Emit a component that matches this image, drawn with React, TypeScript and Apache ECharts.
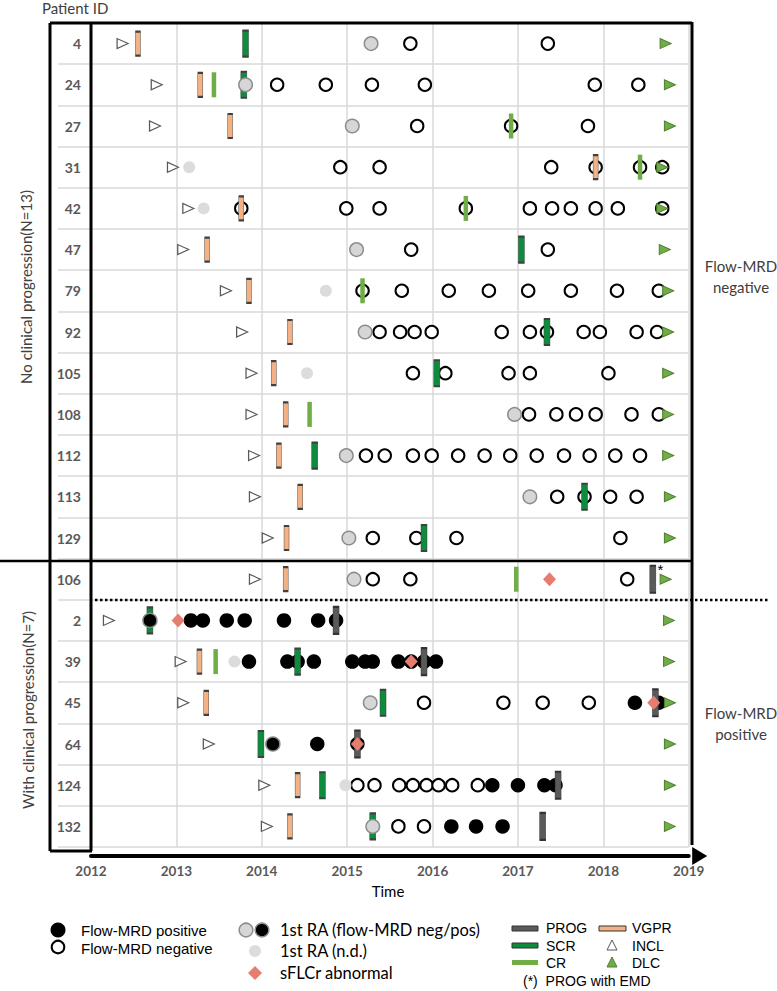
import React, { useEffect, useRef } from 'react';
import * as echarts from 'echarts';

const patients = ['4', '24', '27', '31', '42', '47', '79', '92', '105', '108', '112', '113', '129', '106', '2', '39', '45', '64', '124', '132'];
const yearMin = 2012;
const yearMax = 2019;

type Pt = [number, string];

const incl: Pt[] = [
  [2012.37, '4'], [2012.77, '24'], [2012.75, '27'], [2012.96, '31'], [2013.14, '42'], [2013.08, '47'],
  [2013.58, '79'], [2013.77, '92'], [2013.88, '105'], [2013.88, '108'], [2013.91, '112'], [2013.92, '113'],
  [2014.07, '129'], [2013.92, '106'], [2012.21, '2'], [2013.05, '39'], [2013.08, '45'], [2013.38, '64'],
  [2014.03, '124'], [2014.06, '132'],
];

const dlc: Pt[] = [
  [2018.73, '4'], [2018.78, '24'], [2018.78, '27'], [2018.69, '31'], [2018.69, '42'], [2018.72, '47'],
  [2018.76, '79'], [2018.76, '92'], [2018.76, '105'], [2018.76, '108'], [2018.76, '112'], [2018.78, '113'],
  [2018.78, '129'], [2018.73, '106'], [2018.77, '2'], [2018.77, '39'], [2018.78, '45'], [2018.78, '64'],
  [2018.78, '124'], [2018.78, '132'],
];

const vgpr: Pt[] = [
  [2012.55, '4'], [2013.28, '24'], [2013.63, '27'], [2017.91, '31'], [2013.76, '42'], [2013.36, '47'],
  [2013.85, '79'], [2014.33, '92'], [2014.14, '105'], [2014.28, '108'], [2014.2, '112'], [2014.45, '113'],
  [2014.29, '129'], [2014.28, '106'], [2013.27, '39'], [2013.35, '45'], [2014.42, '124'], [2014.33, '132'],
];

const scr: Pt[] = [
  [2013.81, '4'], [2013.79, '24'], [2017.04, '47'], [2017.34, '92'], [2016.05, '105'], [2014.62, '112'],
  [2017.78, '113'], [2015.9, '129'], [2012.69, '2'], [2014.42, '39'], [2015.42, '45'], [2013.99, '64'],
  [2014.71, '124'], [2015.3, '132'],
];

const cr: Pt[] = [
  [2013.44, '24'], [2016.92, '27'], [2018.43, '31'], [2016.39, '42'], [2015.18, '79'], [2014.56, '108'],
  [2016.98, '106'], [2013.46, '39'],
];

const prog: Pt[] = [
  [2014.87, '2'], [2015.9, '39'], [2018.61, '45'], [2015.12, '64'], [2017.47, '124'], [2017.29, '132'],
];
const progEmd: Pt[] = [[2018.58, '106']];

const sflcr: Pt[] = [
  [2017.37, '106'], [2013.02, '2'], [2015.75, '39'], [2018.59, '45'], [2015.12, '64'],
];

const raNeg: Pt[] = [
  [2015.28, '4'], [2013.81, '24'], [2015.06, '27'], [2015.11, '47'], [2015.21, '92'], [2016.96, '108'],
  [2014.99, '112'], [2017.14, '113'], [2015.02, '129'], [2015.08, '106'], [2015.27, '45'], [2015.3, '132'],
];
const raPos: Pt[] = [[2012.69, '2'], [2014.13, '64']];
const raNd: Pt[] = [
  [2013.15, '31'], [2013.32, '42'], [2014.75, '79'], [2014.53, '105'], [2013.68, '39'], [2014.98, '124'],
];

const flowNeg: Pt[] = [
  [2015.74, '4'], [2017.35, '4'],
  [2014.18, '24'], [2014.75, '24'], [2015.29, '24'], [2015.91, '24'], [2017.9, '24'], [2018.41, '24'],
  [2015.82, '27'], [2016.92, '27'], [2017.82, '27'],
  [2014.92, '31'], [2015.38, '31'], [2017.39, '31'], [2017.91, '31'], [2018.43, '31'], [2018.69, '31'],
  [2013.76, '42'], [2014.99, '42'], [2015.38, '42'], [2016.39, '42'], [2017.14, '42'], [2017.4, '42'],
  [2017.62, '42'], [2017.91, '42'], [2018.17, '42'], [2018.69, '42'],
  [2015.75, '47'], [2017.35, '47'],
  [2015.18, '79'], [2015.64, '79'], [2016.19, '79'], [2016.66, '79'], [2017.12, '79'], [2017.62, '79'],
  [2018.16, '79'], [2018.65, '79'],
  [2015.38, '92'], [2015.62, '92'], [2015.79, '92'], [2015.99, '92'], [2016.81, '92'], [2017.14, '92'],
  [2017.34, '92'], [2017.77, '92'], [2017.96, '92'], [2018.39, '92'], [2018.63, '92'],
  [2015.77, '105'], [2016.15, '105'], [2016.89, '105'], [2017.14, '105'], [2018.06, '105'],
  [2017.13, '108'], [2017.45, '108'], [2017.68, '108'], [2017.91, '108'], [2018.33, '108'], [2018.65, '108'],
  [2015.22, '112'], [2015.44, '112'], [2015.77, '112'], [2015.99, '112'], [2016.3, '112'], [2016.61, '112'],
  [2016.91, '112'], [2017.22, '112'], [2017.54, '112'], [2017.84, '112'], [2018.14, '112'], [2018.43, '112'],
  [2017.46, '113'], [2017.78, '113'], [2018.08, '113'], [2018.39, '113'],
  [2015.3, '129'], [2015.81, '129'], [2016.28, '129'], [2018.2, '129'],
  [2015.3, '106'], [2015.74, '106'], [2018.28, '106'],
  [2015.9, '45'], [2016.83, '45'], [2017.29, '45'], [2017.83, '45'],
  [2015.12, '124'], [2015.32, '124'], [2015.61, '124'], [2015.77, '124'], [2015.93, '124'], [2016.07, '124'],
  [2016.23, '124'], [2016.53, '124'],
  [2015.6, '132'], [2015.9, '132'],
];

const flowPos: Pt[] = [
  [2013.17, '2'], [2013.31, '2'], [2013.59, '2'], [2013.8, '2'], [2014.26, '2'], [2014.66, '2'], [2014.87, '2'],
  [2013.85, '39'], [2014.3, '39'], [2014.42, '39'], [2014.61, '39'], [2015.06, '39'], [2015.21, '39'],
  [2015.3, '39'], [2015.6, '39'], [2015.75, '39'], [2015.9, '39'], [2016.04, '39'],
  [2018.37, '45'], [2018.65, '45'],
  [2014.65, '64'], [2015.12, '64'],
  [2016.7, '124'], [2017.0, '124'], [2017.31, '124'], [2017.44, '124'],
  [2016.22, '132'], [2016.51, '132'], [2016.82, '132'],
];

const C = {
  vgpr: '#F4B183',
  scr: '#0E8C3E',
  cr: '#70AD47',
  prog: '#5A5A5A',
  sflcr: '#E57E70',
  ra: '#D6D6D6',
  nd: '#DCDCDC',
  dlc: '#70AD47',
  grid: '#D9D9D9',
  border: '#404040',
  text: '#404040',
  label: '#595959',
};

const CAL = 'Lato, "Open Sans", sans-serif';
const ARIAL = '"Liberation Sans", Arial, sans-serif';

function buildOption() {
  const sc = (name: string, data: any[], z: number, extra: any) => ({
    type: 'scatter',
    name,
    data,
    z,
    xAxisIndex: 0,
    yAxisIndex: 0,
    ...extra,
    itemStyle: { opacity: 1, ...(extra.itemStyle || {}) },
  });

  const series = [
    sc('Flow-MRD negative', flowNeg, 2, {
      symbol: 'circle', symbolSize: 12.5,
      itemStyle: { color: '#fff', borderColor: '#000', borderWidth: 2 },
    }),
    sc('Flow-MRD positive', flowPos, 2, {
      symbol: 'circle', symbolSize: 14.5,
      itemStyle: { color: '#000' },
    }),
    sc('VGPR', vgpr, 3, {
      symbol: 'rect', symbolSize: [5, 24],
      itemStyle: { color: C.vgpr, borderColor: C.border, borderWidth: 1 },
    }),
    sc('SCR', scr, 3, {
      symbol: 'rect', symbolSize: [6, 26],
      itemStyle: { color: C.scr, borderColor: C.border, borderWidth: 1 },
    }),
    sc('CR', cr, 3, {
      symbol: 'rect', symbolSize: [4.5, 25],
      itemStyle: { color: C.cr },
    }),
    sc('PROG', prog, 3, {
      symbol: 'rect', symbolSize: [6, 27],
      itemStyle: { color: C.prog, borderColor: '#333', borderWidth: 1 },
    }),
    sc('PROG with EMD', progEmd, 3, {
      symbol: 'rect', symbolSize: [6, 27],
      itemStyle: { color: C.prog, borderColor: '#333', borderWidth: 1 },
      label: {
        show: true, formatter: '*', position: [8, -3],
        color: '#000', fontSize: 15, fontFamily: ARIAL,
      },
    }),
    sc('1st RA (flow-MRD neg)', raNeg, 4, {
      symbol: 'circle', symbolSize: 13.5,
      itemStyle: { color: C.ra, borderColor: '#8C8C8C', borderWidth: 1.5 },
    }),
    sc('1st RA (flow-MRD pos)', raPos, 4, {
      symbol: 'circle', symbolSize: 14,
      itemStyle: { color: '#000', borderColor: '#8C8C8C', borderWidth: 1.5 },
    }),
    sc('1st RA (n.d.)', raNd, 4, {
      symbol: 'circle', symbolSize: 12,
      itemStyle: { color: C.nd },
    }),
    sc('sFLCr abnormal', sflcr, 5, {
      symbol: 'diamond', symbolSize: [13, 14],
      itemStyle: { color: C.sflcr },
    }),
    sc('INCL', incl, 6, {
      symbol: 'triangle', symbolSize: [10, 11], symbolRotate: -90,
      itemStyle: { color: '#fff', borderColor: '#595959', borderWidth: 1.2 },
    }),
    sc('DLC', dlc, 6, {
      symbol: 'triangle', symbolSize: [10, 11], symbolRotate: -90,
      itemStyle: { color: C.dlc, borderColor: '#4F7F30', borderWidth: 1 },
    }),
  ];

  const txt = (x: number, y: number, text: string, size: number, font: string, fill: string, extra: any = {}) => ({
    type: 'text', x, y, z: 100,
    style: { text, fontSize: size, fontFamily: font, fill, align: 'left', verticalAlign: 'middle', ...extra },
  });
  const line = (x1: number, y1: number, x2: number, y2: number, w: number, extra: any = {}) => ({
    type: 'line', z: 100,
    shape: { x1, y1, x2, y2 },
    style: { stroke: '#000', lineWidth: w, ...extra },
  });

  const graphic: any[] = [
    // frames
    line(50, 23, 692, 23, 3),
    line(50, 23, 50, 851, 3),
    line(91, 23, 91, 851, 3),
    line(50, 851, 92, 851, 3),
    line(692, 22, 692, 845, 3),
    line(0, 561, 692, 561, 2.5),
    line(95, 600, 768, 600, 2.5, { lineDash: [2.5, 2.5] }),
    // titles
    txt(42, 8, 'Patient ID', 15, CAL, C.text),
    txt(388, 891, 'Time', 15, CAL, '#000', { align: 'center' }),
    {
      type: 'text', x: 26, y: 287, rotation: Math.PI / 2, z: 100,
      style: { text: 'No clinical progression(N=13)', fontSize: 15, fontFamily: CAL, fill: C.text, align: 'center', verticalAlign: 'middle' },
    },
    {
      type: 'text', x: 28, y: 710, rotation: Math.PI / 2, z: 100,
      style: { text: 'With clinical progression(N=7)', fontSize: 15, fontFamily: CAL, fill: C.text, align: 'center', verticalAlign: 'middle' },
    },
    txt(741, 276, 'Flow-MRD\nnegative', 15, CAL, C.text, { align: 'center', lineHeight: 21 }),
    txt(741, 723, 'Flow-MRD\npositive', 15, CAL, C.text, { align: 'center', lineHeight: 21 }),
    // legend
    { type: 'circle', z: 100, shape: { cx: 58, cy: 930, r: 7.5 }, style: { fill: '#000' } },
    { type: 'circle', z: 100, shape: { cx: 58, cy: 947, r: 6.3 }, style: { fill: '#fff', stroke: '#000', lineWidth: 2 } },
    txt(81, 930, 'Flow-MRD positive', 15, ARIAL, '#000'),
    txt(81, 948, 'Flow-MRD negative', 15, ARIAL, '#000'),
    { type: 'circle', z: 100, shape: { cx: 246, cy: 930, r: 6.8 }, style: { fill: C.ra, stroke: '#8C8C8C', lineWidth: 1.5 } },
    { type: 'circle', z: 101, shape: { cx: 262, cy: 930, r: 6.8 }, style: { fill: '#000', stroke: '#8C8C8C', lineWidth: 1.5 } },
    txt(280, 930, '1st RA (flow-MRD neg/pos)', 16.5, CAL, '#000'),
    { type: 'circle', z: 100, shape: { cx: 255, cy: 951, r: 6 }, style: { fill: C.nd } },
    txt(280, 951, '1st RA (n.d.)', 16.5, CAL, '#000'),
    { type: 'polygon', z: 100, shape: { points: [[255, 966], [262, 973], [255, 980], [248, 973]] }, style: { fill: C.sflcr } },
    txt(280, 973, 'sFLCr abnormal', 16.5, CAL, '#000'),
    { type: 'rect', z: 100, shape: { x: 512, y: 926, width: 26, height: 5 }, style: { fill: C.prog, stroke: '#333', lineWidth: 1 } },
    { type: 'rect', z: 100, shape: { x: 512, y: 943, width: 26, height: 5 }, style: { fill: C.scr, stroke: '#333', lineWidth: 1 } },
    { type: 'rect', z: 100, shape: { x: 512, y: 960, width: 26, height: 5 }, style: { fill: C.cr } },
    txt(546, 928, 'PROG', 14, ARIAL, '#000'),
    txt(546, 946, 'SCR', 14, ARIAL, '#000'),
    txt(546, 963, 'CR', 14, ARIAL, '#000'),
    txt(523, 981, '(*)  PROG with EMD', 14, ARIAL, '#000'),
    { type: 'rect', z: 100, shape: { x: 599, y: 926, width: 27, height: 5 }, style: { fill: C.vgpr, stroke: '#333', lineWidth: 1 } },
    txt(632, 928, 'VGPR', 14, ARIAL, '#000'),
    { type: 'polygon', z: 100, shape: { points: [[612, 940], [617, 950], [607, 950]] }, style: { fill: '#fff', stroke: '#595959', lineWidth: 1 } },
    txt(632, 946, 'INCL', 14, ARIAL, '#000'),
    { type: 'polygon', z: 100, shape: { points: [[612, 957], [617, 967], [607, 967]] }, style: { fill: C.dlc, stroke: '#4F7F30', lineWidth: 1 } },
    txt(632, 963, 'DLC', 14, ARIAL, '#000'),
  ];

  const splitStyle = { color: C.grid, width: 1.5 };

  return {
    animation: false,
    grid: [
      { left: 91, top: 23, width: 597.7, height: 824 },
      { left: 58, top: 23, width: 33, height: 824 },
    ],
    xAxis: [
      {
        type: 'value', gridIndex: 0, min: yearMin, max: yearMax, interval: 1, offset: 9,
        axisLine: {
          show: true, lineStyle: { color: '#000', width: 4 },
          symbol: ['none', 'triangle'], symbolSize: [18, 15], symbolOffset: [0, 11],
        },
        axisTick: { show: false },
        axisLabel: {
          margin: 8, color: C.label, fontWeight: 'bold', fontSize: 13.5, fontFamily: CAL,
          formatter: (v: number) => String(v),
        },
        splitLine: { show: true, lineStyle: splitStyle },
      },
      { type: 'value', gridIndex: 1, show: false, min: 0, max: 1 },
    ],
    yAxis: [
      {
        type: 'category', gridIndex: 0, data: patients, inverse: true,
        axisLine: { show: false }, axisTick: { show: false },
        axisLabel: { margin: 10, color: C.label, fontWeight: 'bold', fontSize: 14, fontFamily: CAL },
        splitLine: { show: true, lineStyle: splitStyle },
      },
      {
        type: 'category', gridIndex: 1, data: patients, inverse: true,
        axisLine: { show: false }, axisTick: { show: false }, axisLabel: { show: false },
        splitLine: { show: true, lineStyle: splitStyle },
      },
    ],
    series,
    graphic,
  };
}

export default function App() {
  const ref = useRef<HTMLDivElement>(null);
  useEffect(() => {
    if (!ref.current) return;
    const chart = echarts.init(ref.current, undefined, { renderer: 'svg' });
    chart.setOption(buildOption() as any);
    return () => chart.dispose();
  }, []);
  return <div ref={ref} style={{ position: 'absolute', left: 0, top: 0, width: 777, height: 991 }} />;
}
